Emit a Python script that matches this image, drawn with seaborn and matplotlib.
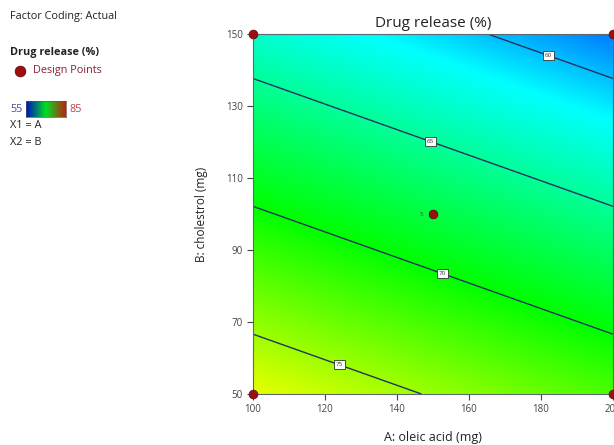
import numpy as np
import pandas as pd
import seaborn as sns
import matplotlib.pyplot as plt
from matplotlib.colors import LinearSegmentedColormap

# factor ranges (actual units)
oleic_range = [100, 200]
chol_range = [50, 150]

# fitted linear model in coded factors: R = b0 + bA*A + bB*B
b0 = 67.8
bA = -2.5
bB = -7.04

# design points (factorial corners + centre point)
design_a = [100, 100, 200, 200, 150]
design_b = [50, 150, 50, 150, 100]
centre_reps = 5

contour_levels = [60, 65, 70, 75]
label_pos = [(182.2, 144.7), (149.4, 120.8), (153.3, 85.6), (124.4, 59.2)]
x_ticks = [100, 120, 140, 160, 180, 200]
y_ticks = [50, 70, 90, 110, 130, 150]
cmin, cmax = 55, 85

sns.set_style("white")
plt.rcParams["font.family"] = ["Open Sans", "DejaVu Sans"]

cmap = LinearSegmentedColormap.from_list(
    "de", [(0, "#0000ff"), (0.22, "#00ffff"), (0.5, "#00ff00"),
           (0.77, "#ffff00"), (1, "#ff0000")])

fig = plt.figure(figsize=(6.14, 4.45), dpi=100)
ax = fig.add_axes([253 / 614, 1 - 394 / 445, 360 / 614, 360 / 445])

xs = np.linspace(oleic_range[0], oleic_range[1], 201)
ys = np.linspace(chol_range[0], chol_range[1], 201)
X, Y = np.meshgrid(xs, ys)
A = (X - 150) / 50
B = (Y - 100) / 50
Z = b0 + bA * A + bB * B

ax.imshow(Z, origin="lower", extent=[100, 200, 50, 150], cmap=cmap,
          vmin=cmin, vmax=cmax, aspect="auto", interpolation="bilinear")
cs = ax.contour(X, Y, Z, levels=contour_levels, colors="#24325e", linewidths=1.0)
labels = ax.clabel(cs, fmt="%d", fontsize=4.5, inline=False, manual=label_pos)
for t in labels:
    t.set_rotation(0)
    t.set_color("#333333")
    t.set_bbox(dict(boxstyle="square,pad=0.3", fc="white", ec="#333333", lw=0.6))

pts = pd.DataFrame({"a": design_a, "b": design_b})
sns.scatterplot(data=pts, x="a", y="b", ax=ax, color="#9a1010", s=40,
                edgecolor="#6a0000", linewidth=0.5, clip_on=False, zorder=5)
ax.text(147.2, 100, str(centre_reps), fontsize=4.5, color="#444444",
        ha="right", va="center")

ax.set_xlim(100, 200)
ax.set_ylim(50, 150)
ax.set_xticks(x_ticks)
ax.set_yticks(y_ticks)
ax.tick_params(axis="both", labelsize=7, colors="#444444", length=4,
               width=0.8, direction="out", bottom=True, left=True)
for sp in ax.spines.values():
    sp.set_color("#5a6a70")
    sp.set_linewidth(0.8)
ax.set_xlabel("A: oleic acid (mg)", fontsize=9, color="#222222", labelpad=11)
ax.set_ylabel("B: cholestrol (mg)", fontsize=8.5, color="#222222", labelpad=13)
ax.set_title("Drug release (%)", fontsize=11, color="#222222", pad=5)

# left-hand legend block
fs = 7.8
fig.text(10 / 614, 1 - 16 / 445, "Factor Coding: Actual", fontsize=fs,
         color="#222222", va="center")
fig.text(10 / 614, 1 - 52 / 445, "Drug release (%)", fontsize=fs,
         fontweight="bold", color="#222222", va="center")
fig.text(33 / 614, 1 - 71 / 445, "Design Points", fontsize=fs,
         color="#8b2035", va="center")
dot_ax = fig.add_axes([14 / 614, 1 - 77 / 445, 12 / 614, 12 / 445])
dot_ax.scatter([0], [0], s=60, color="#9a1010", edgecolor="#6a0000", lw=0.5)
dot_ax.set_xlim(-1, 1)
dot_ax.set_ylim(-1, 1)
dot_ax.axis("off")

fig.text(10 / 614, 1 - 109 / 445, str(cmin), fontsize=fs, color="#4a4aa0",
         va="center")
fig.text(70 / 614, 1 - 109 / 445, str(cmax), fontsize=fs, color="#c04040",
         va="center")
cb_ax = fig.add_axes([26 / 614, 1 - 117 / 445, 40 / 614, 16 / 445])
cb_ax.imshow(np.linspace(cmin, cmax, 100)[None, :], cmap=LinearSegmentedColormap.from_list(
    "bar", ["#0010c0", "#00e020", "#c02010"]), aspect="auto")
cb_ax.set_xticks([])
cb_ax.set_yticks([])
for sp in cb_ax.spines.values():
    sp.set_color("#555555")
    sp.set_linewidth(0.5)
fig.text(10 / 614, 1 - 125 / 445, "X1 = A", fontsize=fs, color="#222222",
         va="center")
fig.text(10 / 614, 1 - 142 / 445, "X2 = B", fontsize=fs, color="#222222",
         va="center")

fig.savefig("out.png", dpi=100)
